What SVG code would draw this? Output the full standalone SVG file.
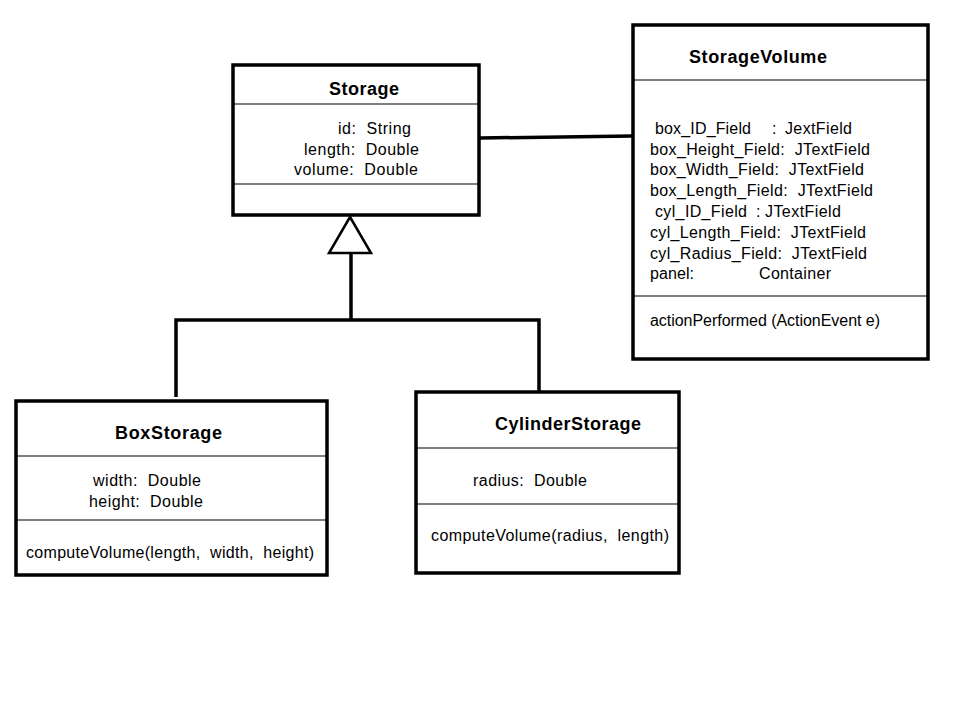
<svg xmlns="http://www.w3.org/2000/svg" width="960" height="720" viewBox="0 0 960 720" xml:space="preserve">
<style>
.box{fill:#fff;stroke:#000;stroke-width:3.5}
.div{stroke:#000;stroke-width:1.2}
.t{font-family:"Liberation Sans",Arial,sans-serif;font-size:16px;fill:#000;white-space:pre}
.h{font-family:"Liberation Sans",Arial,sans-serif;font-size:18px;font-weight:bold;fill:#000}
.c{fill:none;stroke:#000;stroke-width:3.5}
</style>
<rect width="960" height="720" fill="#fff"/>
<g id="connectors">
<line class="c" x1="480" y1="138" x2="632" y2="136"/>
<polyline class="c" points="176,397 176,320 539,320 539,391"/>
<line class="c" x1="351" y1="320" x2="351" y2="253"/>
<polygon points="350,217 371,253 329,253" fill="#fff" stroke="#000" stroke-width="2.5"/>
</g>
<g id="Storage">
<rect class="box" x="233" y="65" width="246" height="150"/>
<line class="div" x1="233" y1="104" x2="479" y2="104"/>
<line class="div" x1="233" y1="184" x2="479" y2="184"/>
<text class="h" x="329" y="95" textLength="70" lengthAdjust="spacing">Storage</text>
<text class="t" x="338" y="134" textLength="73" lengthAdjust="spacing">id:  String</text>
<text class="t" x="304" y="155" textLength="115" lengthAdjust="spacing">length:  Double</text>
<text class="t" x="294" y="175" textLength="124" lengthAdjust="spacing">volume:  Double</text>
</g>
<g id="StorageVolume">
<rect class="box" x="633" y="25" width="295" height="334"/>
<line class="div" x1="633" y1="80" x2="928" y2="80"/>
<line class="div" x1="633" y1="296" x2="928" y2="296"/>
<text class="h" x="689" y="63" textLength="138" lengthAdjust="spacing">StorageVolume</text>
<text class="t" x="655" y="134" textLength="96" lengthAdjust="spacing">box_ID_Field</text>
<text class="t" x="772" y="134">:</text>
<text class="t" x="785" y="134" textLength="67" lengthAdjust="spacing">JextField</text>
<text class="t" x="650" y="155" textLength="220" lengthAdjust="spacing">box_Height_Field:  JTextField</text>
<text class="t" x="650" y="175" textLength="214" lengthAdjust="spacing">box_Width_Field:  JTextField</text>
<text class="t" x="650" y="196" textLength="223" lengthAdjust="spacing">box_Length_Field:  JTextField</text>
<text class="t" x="655" y="217" textLength="92" lengthAdjust="spacing">cyl_ID_Field</text>
<text class="t" x="756" y="217">:</text>
<text class="t" x="765" y="217" textLength="76" lengthAdjust="spacing">JTextField</text>
<text class="t" x="650" y="238" textLength="216" lengthAdjust="spacing">cyl_Length_Field:  JTextField</text>
<text class="t" x="650" y="259" textLength="217" lengthAdjust="spacing">cyl_Radius_Field:  JTextField</text>
<text class="t" x="650" y="279" textLength="44" lengthAdjust="spacing">panel:</text>
<text class="t" x="759" y="279" textLength="72" lengthAdjust="spacing">Container</text>
<text class="t" x="650" y="326" textLength="230" lengthAdjust="spacing">actionPerformed (ActionEvent e)</text>
</g>
<g id="BoxStorage">
<rect class="box" x="16" y="401" width="311" height="174"/>
<line class="div" x1="16" y1="456" x2="327" y2="456"/>
<line class="div" x1="16" y1="520" x2="327" y2="520"/>
<text class="h" x="115" y="439" textLength="107" lengthAdjust="spacing">BoxStorage</text>
<text class="t" x="93" y="486" textLength="108" lengthAdjust="spacing">width:  Double</text>
<text class="t" x="89" y="507" textLength="114" lengthAdjust="spacing">height:  Double</text>
<text class="t" x="26" y="558" textLength="288" lengthAdjust="spacing">computeVolume(length,  width,  height)</text>
</g>
<g id="CylinderStorage">
<rect class="box" x="416" y="392" width="263" height="181"/>
<line class="div" x1="416" y1="448" x2="679" y2="448"/>
<line class="div" x1="416" y1="504" x2="679" y2="504"/>
<text class="h" x="495" y="430" textLength="146" lengthAdjust="spacing">CylinderStorage</text>
<text class="t" x="473" y="486" textLength="114" lengthAdjust="spacing">radius:  Double</text>
<text class="t" x="431" y="541" textLength="238" lengthAdjust="spacing">computeVolume(radius,  length)</text>
</g>
</svg>
